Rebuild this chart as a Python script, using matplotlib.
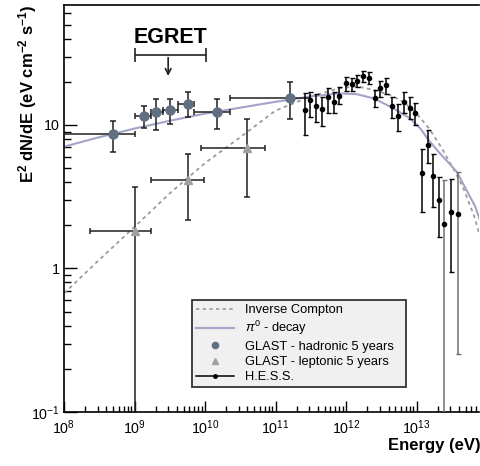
import numpy as np
import matplotlib.pyplot as plt
from matplotlib.lines import Line2D
from matplotlib.ticker import FixedLocator, FixedFormatter, LogLocator, NullFormatter

plt.rcParams['font.family'] = ['Liberation Sans', 'DejaVu Sans']
plt.rcParams['mathtext.fontset'] = 'custom'
plt.rcParams['mathtext.rm'] = 'Liberation Sans'
plt.rcParams['mathtext.it'] = 'Liberation Sans:italic'
plt.rcParams['mathtext.bf'] = 'Liberation Sans:bold'

# model curves
pi0_E = [1e8, 3.16e8, 1e9, 3.16e9, 1e10, 3.16e10, 1e11, 3.16e11, 7.9e11, 1.41e12, 2.5e12,
         4.5e12, 7.9e12, 1.12e13, 1.48e13, 2.14e13, 2.8e13, 3.7e13, 5.1e13, 6.8e13, 8e13]
pi0_F = [7.06, 8.22, 9.44, 10.7, 12.0, 13.2, 14.5, 15.8, 16.6, 16.4, 15.3,
         13.2, 11.2, 9.5, 7.85, 6.34, 5.5, 4.73, 3.52, 2.70, 2.14]
ic_E = [1e8, 3.16e8, 1e9, 3.16e9, 1e10, 3.16e10, 1e11, 3.16e11, 7.9e11, 1.41e12, 2.5e12,
        4.2e12, 6.5e12, 1e13, 1.48e13, 2.14e13, 3.3e13, 4.6e13, 6.5e13, 8e13]
ic_F = [0.671, 1.15, 1.95, 3.34, 5.43, 8.22, 12.6, 15.8, 18.0, 18.6, 17.5,
        16.2, 14.5, 12.0, 9.55, 7.24, 5.0, 3.63, 2.34, 1.66]

# GLAST - hadronic 5 years
had_E = [5.0e8, 1.36e9, 2.0e9, 3.2e9, 5.7e9, 1.5e10, 1.6e11]
had_Elo = [8.0e7, 1.0e9, 1.74e9, 2.57e9, 4.07e9, 7.08e9, 2.29e10]
had_Ehi = [1.0e9, 1.74e9, 2.57e9, 4.07e9, 7.08e9, 2.29e10, 3.09e11]
had_F = [8.6, 11.6, 12.3, 12.7, 14.0, 12.3, 15.4]
had_Fhi = [10.7, 13.6, 15.1, 15.1, 17.1, 15.2, 19.9]
had_Flo = [6.5, 9.6, 9.2, 10.1, 11.3, 9.4, 11.0]

# GLAST - leptonic 5 years
lep_E = [1.0e9, 5.7e9, 4.0e10]
lep_Elo = [2.34e8, 1.72e9, 8.7e9]
lep_Ehi = [1.74e9, 9.8e9, 7.1e10]
lep_F = [1.83, 4.14, 6.95]
lep_Fhi = [3.68, 6.25, 11.0]
lep_Flo = [0.01, 2.18, 3.16]

# H.E.S.S.
hess_E = [2.62e11, 3.08e11, 3.75e11, 4.61e11, 5.50e11, 6.68e11, 8.04e11, 9.89e11, 1.20e12,
          1.45e12, 1.76e12, 2.14e12, 2.55e12, 3.07e12, 3.73e12, 4.49e12, 5.52e12, 6.65e12,
          8.09e12, 9.62e12, 1.19e13, 1.43e13, 1.73e13, 2.08e13, 2.45e13, 3.05e13, 3.84e13]
hess_F = [12.7, 14.9, 13.6, 12.9, 15.6, 14.5, 15.9, 19.5, 19.3, 20.4, 21.9, 21.3, 15.4, 18.0,
          19.0, 13.6, 11.6, 14.5, 13.2, 12.1, 4.66, 7.26, 4.44, 3.0, 2.04, 2.49, 2.40]
hess_Fhi = [16.8, 17.0, 16.4, 15.7, 18.2, 17.1, 18.3, 21.5, 21.4, 22.3, 23.9, 23.5, 17.5, 20.4,
            21.1, 15.7, 14.0, 17.1, 15.6, 14.2, 6.8, 9.2, 6.25, 4.36, 4.14, 4.19, 4.68]
hess_Flo = [8.5, 11.3, 10.5, 9.9, 12.1, 12.1, 13.9, 17.3, 17.3, 18.3, 20.0, 19.2, 13.3, 15.7,
            16.4, 11.1, 9.1, 12.1, 11.0, 10.0, 2.49, 5.4, 2.70, 1.65, 0.01, 0.95, 0.254]
hess_gray = [0] * 24 + [1, 0, 1]

egret_range = [1.0e9, 1.03e10]

had_col = '#617080'
lep_col = '#a0a0a0'
pi0_col = '#a4a4c8'
ic_col = '#9a9a9a'

fig = plt.figure(figsize=(4.81, 4.66), dpi=100)
ax = fig.add_axes([64 / 481, 1 - 412 / 466, 415 / 481, 407 / 466])

ax.plot(ic_E, ic_F, color=ic_col, ls=(0, (2, 2)), lw=1.3, zorder=2)
ax.plot(pi0_E, pi0_F, color=pi0_col, lw=1.5, zorder=2)

def asym(v, lo, hi):
    v, lo, hi = np.array(v), np.array(lo), np.array(hi)
    return [v - lo, hi - v]

ax.errorbar(had_E, had_F, xerr=asym(had_E, had_Elo, had_Ehi), yerr=asym(had_F, had_Flo, had_Fhi),
            fmt='o', ms=6.5, color=had_col, ecolor='#202020', elinewidth=1.1, capsize=2,
            capthick=1.1, zorder=4)
ax.errorbar(lep_E, lep_F, xerr=asym(lep_E, lep_Elo, lep_Ehi), yerr=asym(lep_F, lep_Flo, lep_Fhi),
            fmt='^', ms=6, color=lep_col, ecolor='#202020', elinewidth=1.1, capsize=2,
            capthick=1.1, zorder=4)

hE, hF = np.array(hess_E), np.array(hess_F)
hlo, hhi = np.array(hess_Flo), np.array(hess_Fhi)
g = np.array(hess_gray) == 1
for m, ec in [(~g, 'black'), (g, '#707070')]:
    ax.errorbar(hE[m], hF[m], yerr=[hF[m] - hlo[m], hhi[m] - hF[m]], fmt='o', ms=3,
                color='black', ecolor=ec, elinewidth=1.1, capsize=1.8, capthick=1.0, zorder=5)

# EGRET bracket
egc = np.sqrt(egret_range[0] * egret_range[1])
ax.errorbar([egc], [30.8], xerr=[[egc - egret_range[0]], [egret_range[1] - egc]],
            fmt='none', ecolor='#222222', elinewidth=1.2, capsize=5, capthick=1.2)
ax.annotate('', xy=(3.0e9, 21.0), xytext=(3.0e9, 30.8),
            arrowprops=dict(arrowstyle='->', color='#222222', lw=1.2, mutation_scale=10))
ax.text(3.2e9, 40.5, 'EGRET', ha='center', va='center', fontsize=15.5, fontweight='bold')

ax.set_xscale('log')
ax.set_yscale('log')
ax.set_xlim(1e8, 10 ** 13.885)
ax.set_ylim(0.1, 10 ** 1.836)

ax.xaxis.set_major_locator(FixedLocator([1e8, 1e9, 1e10, 1e11, 1e12, 1e13]))
ax.xaxis.set_major_formatter(FixedFormatter([r'$\mathregular{10^{%d}}$' % k for k in range(8, 14)]))
ax.xaxis.set_minor_locator(LogLocator(base=10, subs=np.arange(2, 10), numticks=20))
ax.xaxis.set_minor_formatter(NullFormatter())
ax.yaxis.set_major_locator(FixedLocator([0.1, 1, 10]))
ax.yaxis.set_major_formatter(FixedFormatter([r'$\mathregular{10^{-1}}$', '1', '10']))
ax.yaxis.set_minor_locator(LogLocator(base=10, subs=np.arange(2, 10), numticks=20))
ax.yaxis.set_minor_formatter(NullFormatter())

ax.tick_params(axis='x', which='major', direction='in', length=8, width=1, labelsize=10.3, pad=4.5)
ax.tick_params(axis='x', which='minor', direction='in', length=4.3, width=1)
ax.tick_params(axis='y', which='major', direction='in', length=9.5, width=1, labelsize=10.3, pad=3)
ax.tick_params(axis='y', which='minor', direction='in', length=5, width=1)
ax.spines['right'].set_visible(False)
for s in ['top', 'left', 'bottom']:
    ax.spines[s].set_linewidth(1.2)

ax.set_xlabel('Energy (eV)', fontsize=12, fontweight='bold', loc='right')
ax.xaxis.set_label_coords(1.003, -0.064)
ax.set_ylabel(r'E$^{\mathbf{2}}$ dN/dE (eV cm$^{\mathbf{-2}}$ s$^{\mathbf{-1}}$)',
              fontsize=12, fontweight='bold', loc='top')
ax.yaxis.set_label_coords(-0.06, 1.0)

handles = [
    Line2D([], [], color=ic_col, ls=(0, (2, 2)), lw=1.2),
    Line2D([], [], color=pi0_col, lw=1.5),
    Line2D([], [], ls='none', marker='o', color=had_col, ms=4.5),
    Line2D([], [], ls='none', marker='^', color=lep_col, ms=4.5),
    Line2D([], [], color='black', lw=1.1, marker='o', ms=2.5),
]
labels = ['Inverse Compton', r'$\pi^{0}$ - decay', 'GLAST - hadronic 5 years',
          'GLAST - leptonic 5 years', 'H.E.S.S.']
leg = ax.legend(handles, labels, loc='lower left', bbox_to_anchor=(0.308, 0.061, 0.516, 0.21),
                mode='expand', fontsize=9.3, fancybox=False, edgecolor='#333333',
                facecolor='#f0f0f0', framealpha=1, handlelength=3.0, labelspacing=0.25,
                borderaxespad=0, borderpad=0.3)
leg.get_frame().set_linewidth(1.3)

fig.savefig('out.png', dpi=100)
